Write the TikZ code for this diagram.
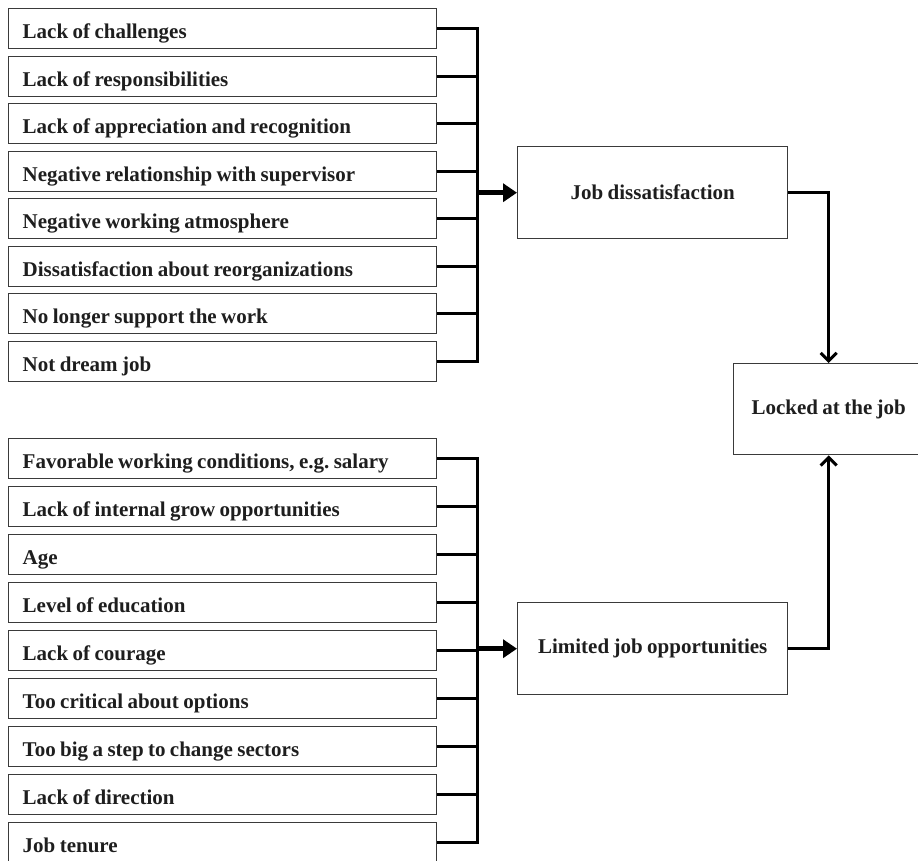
\documentclass[tikz,border=0pt]{standalone}
\usepackage{fontspec}
\setmainfont{Liberation Serif}
\usetikzlibrary{arrows.meta}
\definecolor{edge}{HTML}{3A3A3A}
\definecolor{ink}{HTML}{1E1E1E}
\newcommand{\boxfont}{\fontsize{21}{23}\selectfont\bfseries\frenchspacing\spaceskip=0.21em plus 0.05em\relax}
\begin{document}
\begin{tikzpicture}[x=1pt,y=-1pt,
  factor/.style={draw=edge, line width=1.4pt, rectangle, anchor=north west,
    minimum width=428pt, minimum height=40pt, inner xsep=13pt,
    text height=20pt, text depth=0pt,
    text=ink, font=\boxfont,
    execute at begin node={\hbox to 400pt\bgroup},
    execute at end node={\hfil\egroup}},
  outcome/.style={draw=edge, line width=1.4pt, rectangle, anchor=north west,
    minimum height=92pt, align=center, text=ink, font=\boxfont},
  bus/.style={draw=black, line width=3pt, line join=miter},
  bigarrow/.style={draw=black, line width=5.5pt, -{Triangle[length=14pt,width=18pt]}},
  linkarrow/.style={draw=black, line width=3pt, line join=miter,
    -{Straight Barb[length=8pt,width=16pt,line width=3pt]}}]
\useasboundingbox (0,0) rectangle (918,860);
\clip (0,0) rectangle (918,860);

% causes of job dissatisfaction
\node[factor] (a1) at (8,8)     {Lack of challenges};
\node[factor] (a2) at (8,55.5)  {Lack of responsibilities};
\node[factor] (a3) at (8,103)   {Lack of appreciation and recognition};
\node[factor] (a4) at (8,150.5) {Negative relationship with supervisor};
\node[factor] (a5) at (8,198)   {Negative working atmosphere};
\node[factor] (a6) at (8,245.5) {Dissatisfaction about reorganizations};
\node[factor] (a7) at (8,293)   {No longer support the work};
\node[factor] (a8) at (8,340.5) {Not dream job};

% causes of limited job opportunities
\node[factor] (b1) at (8,438) {Favorable working conditions, e.g. salary};
\node[factor] (b2) at (8,486) {Lack of internal grow opportunities};
\node[factor] (b3) at (8,534) {Age};
\node[factor] (b4) at (8,582) {Level of education};
\node[factor] (b5) at (8,630) {Lack of courage};
\node[factor] (b6) at (8,678) {Too critical about options};
\node[factor] (b7) at (8,726) {Too big a step to change sectors};
\node[factor] (b8) at (8,774) {Lack of direction};
\node[factor] (b9) at (8,822) {Job tenure};

% intermediate and final outcomes
\node[outcome, minimum width=270pt] (jd) at (517,146) {Job dissatisfaction};
\node[outcome, minimum width=270pt] (lj) at (517,602) {Limited job opportunities};
\node[outcome, minimum width=190pt, minimum height=91pt] (lk) at (733,363) {Locked at the job};

% collector lines
\coordinate (busA) at (477,0);
\draw[bus] (a1.east) -| (a8.east -| busA) -- (a8.east);
\foreach \i in {2,...,7} \draw[bus] (a\i.east) -- (a\i.east -| busA);
\draw[bus] (b1.east) -| (b9.east -| busA) -- (b9.east);
\foreach \i in {2,...,8} \draw[bus] (b\i.east) -- (b\i.east -| busA);

% arrows into the outcomes
\draw[bigarrow] (jd.west -| busA) -- (jd.west);
\draw[bigarrow] (lj.west -| busA) -- (lj.west);
\draw[linkarrow] (jd.east) -| (lk.north);
\draw[linkarrow] (lj.east) -| (lk.south);
\end{tikzpicture}
\end{document}
